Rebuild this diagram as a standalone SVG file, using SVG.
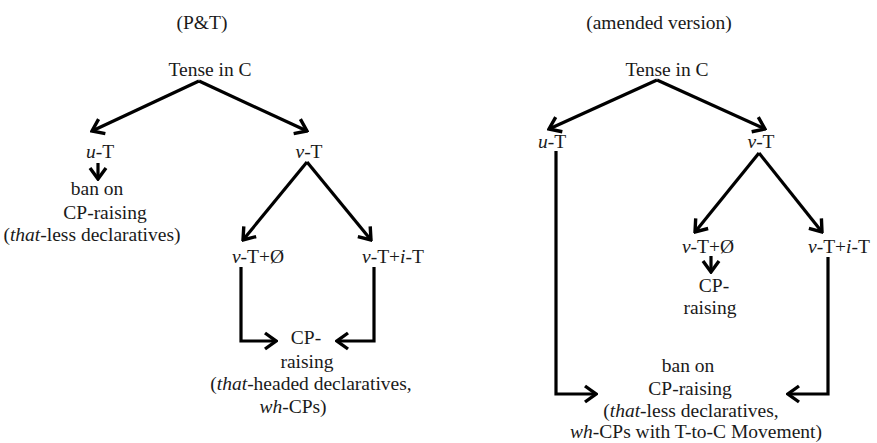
<svg xmlns="http://www.w3.org/2000/svg" width="877" height="443" viewBox="0 0 877 443">
<style>
text{font-family:"Liberation Serif","DejaVu Serif","Times New Roman",serif;font-size:19.5px;fill:#1a1a1a;text-anchor:middle}
.i{font-style:italic}
.c{fill:none;stroke:#000;stroke-width:3.2;stroke-linejoin:miter;marker-end:url(#ah)}
</style>
<defs>
<marker id="ah" markerUnits="userSpaceOnUse" viewBox="-14 -10 16 20" markerWidth="16" markerHeight="20" refX="0" refY="0" orient="auto">
<path d="M-11,-8 L0,0 L-11,8" fill="none" stroke="#000" stroke-width="3.4"/>
</marker>
</defs>
<rect width="877" height="443" fill="#fff"/>
<g id="connectors">
<path class="c" d="M199,81 L92,131"/>
<path class="c" d="M199,81 L307,131"/>
<path class="c" d="M98,163 L98,179"/>
<path class="c" d="M307,162 L243,240"/>
<path class="c" d="M307,162 L371,240"/>
<path class="c" d="M241,267 L241,341 L276,341"/>
<path class="c" d="M374,267 L374,341 L337,341"/>
<path class="c" d="M657,80 L549,129"/>
<path class="c" d="M657,80 L765,129"/>
<path class="c" d="M556,151 L556,394 L596,394"/>
<path class="c" d="M759,153 L695,232"/>
<path class="c" d="M759,153 L822,232"/>
<path class="c" d="M711,256 L711,272"/>
<path class="c" d="M828,257 L828,394 L788,394"/>
</g>
<g font-family="'Liberation Serif','DejaVu Serif',serif">
<g id="title-left"><text x="202" y="29">(P&amp;T)</text></g>
<g id="L-tense"><text x="210" y="76">Tense in C</text></g>
<g id="L-uT"><text x="100" y="158"><tspan class="i">u</tspan>-T</text></g>
<g id="L-vT"><text x="309" y="158"><tspan class="i">v</tspan>-T</text></g>
<g id="L-ban">
<text x="97" y="195">ban on</text>
<text x="105" y="219">CP-raising</text>
<text x="92" y="241">(<tspan class="i">that</tspan>-less declaratives)</text>
</g>
<g id="L-vT0"><text x="258" y="263"><tspan class="i">v</tspan>-T+Ø</text></g>
<g id="L-vTiT"><text x="393" y="263"><tspan class="i">v</tspan>-T+<tspan class="i">i</tspan>-T</text></g>
<g id="L-cpraising">
<text x="306" y="344">CP-</text>
<text x="307" y="368">raising</text>
<text x="311" y="390">(<tspan class="i">that</tspan>-headed declaratives,</text>
<text x="293" y="413"><tspan class="i">wh</tspan>-CPs)</text>
</g>
<g id="title-right"><text x="659" y="29">(amended version)</text></g>
<g id="R-tense"><text x="667" y="76">Tense in C</text></g>
<g id="R-uT"><text x="552" y="148"><tspan class="i">u</tspan>-T</text></g>
<g id="R-vT"><text x="761" y="148"><tspan class="i">v</tspan>-T</text></g>
<g id="R-vT0"><text x="708" y="253"><tspan class="i">v</tspan>-T+Ø</text></g>
<g id="R-vTiT"><text x="839" y="253"><tspan class="i">v</tspan>-T+<tspan class="i">i</tspan>-T</text></g>
<g id="R-cpraising">
<text x="714" y="292">CP-</text>
<text x="710" y="314">raising</text>
</g>
<g id="R-ban">
<text x="688" y="372">ban on</text>
<text x="690" y="395">CP-raising</text>
<text x="691" y="417">(<tspan class="i">that</tspan>-less declaratives,</text>
<text x="696" y="438"><tspan class="i">wh</tspan>-CPs with T-to-C Movement)</text>
</g>
</g>
</svg>
